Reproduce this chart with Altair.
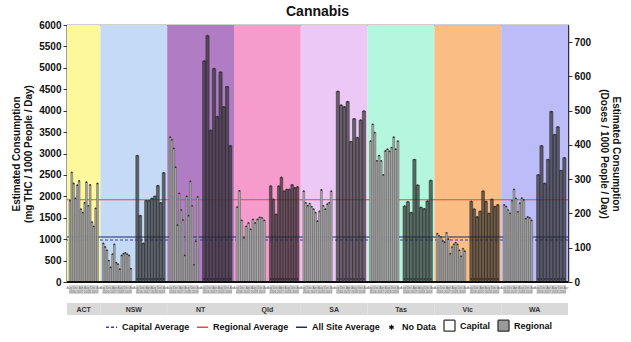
import altair as alt
import pandas as pd

# ---------------- data ----------------
states = ["ACT", "NSW", "NT", "Qld", "SA", "Tas", "Vic", "WA"]
state_colours = ["#fcf89b", "#c5daf6", "#b07cc4", "#f69ccc", "#ecc8f6", "#b4f6de", "#fabe84", "#bcbcf8"]

panel_state = ["ACT", "NSW", "NSW", "NT", "NT", "Qld", "Qld", "SA", "SA", "Tas", "Tas", "Vic", "Vic", "WA", "WA"]
panel_kind = ["Capital", "Capital", "Regional", "Capital", "Regional", "Capital", "Regional",
              "Capital", "Regional", "Capital", "Regional", "Capital", "Regional", "Capital", "Regional"]

act_capital = [1900, 2560, 2300, 1950, 2260, 2360, 1700, 1620, 1850, 2330, 1780, 2270, 1400, 1300, 1720, 2300]
nsw_capital = [900, 820, 740, 500, 340, 650, 880, 450, 420, 300, 620, 660, 680, 650, 620, 310]
nsw_regional = [2950, 1550, 900, 1900, 1900, 1950, 2000, 2250, 1850, 2550]
nt_capital = [3380, 3320, 3120, 2680, 1330, 2070, 1680, 1450, 620, 2000, 1550, 2350, 1780, 400, 950, 1990]
nt_regional = [5160, 5750, 3540, 4980, 3860, 4900, 4090, 4560, 3180]
qld_capital = [1750, 2130, 1440, 1030, 1300, 1380, 1230, 1460, 1380, 1460, 1510, 1500, 1440]
qld_regional = [2240, 1930, 1580, 2240, 2440, 2120, 2160, 2160, 2270, 2200, 2220]
sa_capital = [2120, 1850, 1780, 1830, 1760, 1700, 1620, 1420, 1650, 2150, 1780, 1700, 1820, 1850, 2120]
sa_regional = [4450, 4130, 4090, 4210, 3280, 3810, 3370, 3780, 3990]
tas_capital = [3290, 3680, 3490, 2830, 2950, 2830, 2500, 3060, 3100, 3050, 3140, 3380, 3100, 3290]
tas_regional = [1770, 1870, 1620, 2860, 2260, 1740, 1710, 1890, 2370]
vic_capital = [1130, 1075, 1050, 960, 930, 1150, 1000, 660, 815, 880, 920, 880, 740, 600, 780, 720]
vic_regional = [1880, 1700, 1520, 1650, 2120, 1880, 1600, 1930, 1760, 1800]
wa_capital = [1800, 1760, 1680, 1600, 1900, 2160, 1950, 1640, 1840, 1960, 1920, 1480, 1520, 1500, 1440]
wa_regional = [2500, 3180, 2300, 2860, 3980, 3440, 3620, 2600, 2900]

panel_values = [act_capital, nsw_capital, nsw_regional, nt_capital, nt_regional,
                qld_capital, qld_regional, sa_capital, sa_regional, tas_capital, tas_regional,
                vic_capital, vic_regional, wa_capital, wa_regional]

capital_average = 980
regional_average = 1920
all_site_average = 1050
mg_per_dose = 8

tick_row1 = "Aug Dec Apr Aug Dec Apr"
tick_row2 = "2016 2017 2018 2019"

legend_items = ["Capital Average", "Regional Average", "All Site Average", "No Data", "Capital", "Regional"]

# ---------------- tables ----------------
W, H = 501, 257
NP = len(panel_state)
rows = []
for p, (st, kind, vals) in enumerate(zip(panel_state, panel_kind, panel_values)):
    n = len(vals)
    w = 0.88 / n
    for i, v in enumerate(vals):
        x0 = p + 0.06 + i * w
        rows.append(dict(state=st, kind=kind, x0=x0, x1=x0 + w, xm=x0 + w / 2, value=v))
bars = pd.DataFrame(rows)

srows = []
for st, col in zip(states, state_colours):
    idx = [i for i, s in enumerate(panel_state) if s == st]
    srows.append(dict(state=st, colour=col, s0=idx[0], s1=idx[-1] + 1, sm=(idx[0] + idx[-1] + 1) / 2))
state_df = pd.DataFrame(srows)

prow = [dict(p0=p + 0.06, p1=p + 0.94, pm=p + 0.5, r1=tick_row1, r2=tick_row2) for p in range(NP)]
panel_df = pd.DataFrame(prow)

avg_df = pd.DataFrame(dict(name=["Capital Average", "Regional Average", "All Site Average"],
                           value=[capital_average, regional_average, all_site_average]))
avg_df["doses"] = avg_df["value"] / mg_per_dose

legend_df = pd.DataFrame(dict(item=legend_items))

# ---------------- encodings ----------------
FONT = "Liberation Sans"
xscale = alt.Scale(domain=[0, NP], nice=False, zero=False)
yscale = alt.Scale(domain=[0, 6000], nice=False)
yaxis = alt.Axis(values=list(range(0, 6001, 500)), format="d",
                 title=["Estimated Consumption", "(mg THC / 1000 People / Day)"],
                 labelFontSize=10, labelFontWeight="bold", titleFontSize=10, titleFontWeight="bold",
                 labelFont=FONT, titleFont=FONT, labelColor="#111", titleColor="#111",
                 tickSize=4, tickColor="#333", domainColor="#333", domainWidth=1.5, grid=False,
                 titlePadding=5, labelPadding=2)


def X(f):
    return alt.X(f, type="quantitative", scale=xscale, axis=None)


def Y(f):
    return alt.Y(f, type="quantitative", scale=yscale, axis=yaxis)


star_path = "M0,-0.45V0.45M-0.4,-0.22L0.4,0.22M-0.4,0.22L0.4,-0.22"
leg = alt.Legend(orient="none", legendX=38, legendY=294, direction="horizontal", title=None,
                 labelFontSize=9, labelFontWeight="bold", labelFont=FONT, labelColor="#111",
                 symbolSize=121, symbolStrokeWidth=1.3, symbolFillColor="white", symbolStrokeColor="#333",
                 symbolOpacity=1, columnPadding=4, labelOffset=4)

legend_layer = alt.Chart(legend_df).mark_point(opacity=0).encode(
    x=alt.X(datum=0.5, type="quantitative", scale=xscale, axis=None),
    y=alt.Y(datum=3000, type="quantitative", scale=yscale, axis=yaxis),
    shape=alt.Shape("item:N", scale=alt.Scale(domain=legend_items,
                    range=["M-1,0H1", "M-1,0H1", "M-1,0H1", star_path, "M-1,-1H1V1H-1Z", "M-1,-1H1V1H-1Z"]), legend=leg),
    fill=alt.Fill("item:N", scale=alt.Scale(domain=legend_items,
                  range=["transparent", "transparent", "transparent", "transparent", "#ffffff", "#9a9a9a"]), legend=leg),
    stroke=alt.Stroke("item:N", scale=alt.Scale(domain=legend_items,
                      range=["#3b3bb8", "#ee4444", "#1f2a66", "#111111", "#333333", "#333333"]), legend=leg),
    strokeDash=alt.StrokeDash("item:N", scale=alt.Scale(domain=legend_items,
                              range=[[3, 2], [1, 0], [1, 0], [1, 0], [1, 0], [1, 0]]), legend=leg),
)

bg = alt.Chart(state_df).mark_rect().encode(
    x=X("s0"), x2="s1", y=alt.value(0), y2=alt.value(H),
    fill=alt.Fill("colour:N", scale=None),
)

cap_line = alt.Chart(avg_df).transform_filter(alt.datum.name == "Capital Average").mark_rule(
    color="#3b3bb8", strokeWidth=1, strokeDash=[3, 2]).encode(y=Y("value"))
all_line = alt.Chart(avg_df).transform_filter(alt.datum.name == "All Site Average").mark_rule(
    color="#1f2a66", strokeWidth=1.1).encode(y=Y("value"))
reg_line = alt.Chart(avg_df).transform_filter(alt.datum.name == "Regional Average").mark_rule(
    color="#ee4444", strokeWidth=1).encode(y=Y("value"))

cap_bars = alt.Chart(bars).transform_filter(alt.datum.kind == "Capital").mark_rect(
    fill="#a5a5a5", stroke="#555555", strokeWidth=0.45).encode(
    x=X("x0"), x2="x1", y=Y("value"), y2=alt.datum(0))
reg_bars = alt.Chart(bars).transform_filter(alt.datum.kind == "Regional").mark_rect(
    fill="#2b2b2b", fillOpacity=0.68, stroke="#222222", strokeWidth=0.45).encode(
    x=X("x0"), x2="x1", y=Y("value"), y2=alt.datum(0))
dots = alt.Chart(bars).mark_circle(size=3, color="#333333", opacity=1).encode(x=X("xm"), y=Y("value"))
stars = alt.Chart(bars).transform_filter(alt.datum.kind == "Regional").mark_point(
    shape=star_path, size=14, stroke="#111111", strokeWidth=0.6, filled=False).encode(
    x=X("xm"), y=alt.value(H - 3))

base_rule = alt.Chart(avg_df).mark_rule(color="#111111", strokeWidth=2).encode(y=alt.value(H))

tick_box = alt.Chart(panel_df).mark_rect(fill="#d3d3d3").encode(
    x=X("p0"), x2="p1", y=alt.value(H + 3), y2=alt.value(H + 12))
tick_t1 = alt.Chart(panel_df).mark_text(fontSize=3, color="#6a6a6a", font=FONT).encode(
    x=X("pm"), y=alt.value(H + 6), text="r1:N")
tick_t2 = alt.Chart(panel_df).mark_text(fontSize=3, color="#6a6a6a", font=FONT).encode(
    x=X("pm"), y=alt.value(H + 9.5), text="r2:N")

strip_box = alt.Chart(state_df).mark_rect(fill="#d9d9d9").encode(
    x=X("s0"), x2="s1", y=alt.value(H + 21), y2=alt.value(H + 33))
strip_text = alt.Chart(state_df).mark_text(fontSize=7, fontWeight="bold", color="#333333", font=FONT).encode(
    x=X("sm"), y=alt.value(H + 27.5), text="state:N")

inner = alt.layer(legend_layer, bg, cap_line, all_line, reg_line, cap_bars, reg_bars, dots, stars,
                  base_rule, tick_box, tick_t1, tick_t2, strip_box, strip_text)

right = alt.Chart(avg_df).mark_point(opacity=0).encode(
    y=alt.Y("doses:Q", scale=alt.Scale(domain=[0, 6000 / mg_per_dose], nice=False),
            axis=alt.Axis(orient="right", values=list(range(0, 701, 100)), format="d",
                          title=["Estimated Consumption", "(Doses / 1000 People / Day)"],
                          labelFontSize=10, labelFontWeight="bold", titleFontSize=10, titleFontWeight="bold",
                          labelFont=FONT, titleFont=FONT, labelColor="#111", titleColor="#111",
                          tickSize=4, tickColor="#333", domainColor="#333", domainWidth=1.5, grid=False,
                          titlePadding=8, labelPadding=2)))

chart = alt.layer(inner, right).resolve_scale(y="independent").properties(
    width=W, height=H,
    title=alt.TitleParams("Cannabis", fontSize=14, fontWeight="bold", font=FONT, color="#111", anchor="middle", offset=1),
    padding={"left": 11, "top": 5, "right": 5, "bottom": 5},
).configure_view(stroke="#444444", strokeWidth=1.2)

chart.save("out.html", embed_options={"renderer": "svg", "actions": False})
